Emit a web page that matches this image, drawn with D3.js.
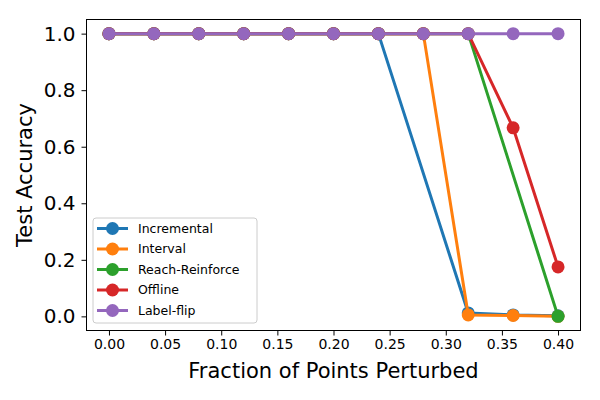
<!DOCTYPE html>
<html>
<head>
<meta charset="utf-8">
<script src="https://cdn.jsdelivr.net/npm/d3@7"></script>
<style>
  body { margin: 0; background: #fff; }
  text { font-family: "DejaVu Sans", sans-serif; fill: #000; }
</style>
</head>
<body>
<svg width="600" height="400"></svg>
<script>
// fraction of points perturbed
var fractions = [0.00, 0.04, 0.08, 0.12, 0.16, 0.20, 0.24, 0.28, 0.32, 0.36, 0.40];

// null = no point measured there
var incremental    = [1, 1, 1, 1, 1, 1, 1, null, 0.012, 0.005, 0.002];
var interval       = [1, 1, 1, 1, 1, 1, 1, 1, 0.005, 0.003, 0.0];
var reachReinforce = [1, 1, 1, 1, 1, 1, 1, 1, 1, null, 0.0];
var offline        = [1, 1, 1, 1, 1, 1, 1, 1, 1, 0.667, 0.175];
var labelFlip      = [1, 1, 1, 1, 1, 1, 1, 1, 1, 1, 1];

var seriesNames = ["Incremental", "Interval", "Reach-Reinforce", "Offline", "Label-flip"];
var seriesValues = [incremental, interval, reachReinforce, offline, labelFlip];
var colors = ["#1f77b4", "#ff7f0e", "#2ca02c", "#d62728", "#9467bd"];

var xTicks = [0, 0.05, 0.1, 0.15, 0.2, 0.25, 0.3, 0.35, 0.4];
var yTicks = [0, 0.2, 0.4, 0.6, 0.8, 1.0];

var plotLeft = 86.5, plotRight = 580.5, plotTop = 19.5, plotBottom = 330.5;

var x = d3.scaleLinear().domain([-0.02, 0.42]).range([plotLeft, plotRight]);
var y = d3.scaleLinear().domain([-0.05, 1.05]).range([plotBottom, plotTop]);

var svg = d3.select("svg");

var line = d3.line()
  .x(function(d) { return x(d.x); })
  .y(function(d) { return y(d.y); });

var series = seriesNames.map(function(name, i) {
  var pts = [];
  fractions.forEach(function(f, j) {
    if (seriesValues[i][j] !== null) pts.push({x: f, y: seriesValues[i][j]});
  });
  return {name: name, color: colors[i], points: pts};
});

var g = svg.append("g");
series.forEach(function(s) {
  var sg = g.append("g");
  sg.append("path")
    .attr("d", line(s.points))
    .attr("fill", "none")
    .attr("stroke", s.color)
    .attr("stroke-width", 3);
  sg.selectAll("circle")
    .data(s.points)
    .enter().append("circle")
    .attr("cx", function(d) { return x(d.x); })
    .attr("cy", function(d) { return y(d.y); })
    .attr("r", 6.5)
    .attr("fill", s.color);
});

// axes
var xAxis = svg.append("g")
  .attr("transform", "translate(0," + plotBottom + ")")
  .call(d3.axisBottom(x).tickValues(xTicks).tickFormat(d3.format(".2f")).tickSize(5).tickPadding(4));
xAxis.selectAll("text").style("font-size", "14px");

var yAxis = svg.append("g")
  .attr("transform", "translate(" + plotLeft + ",0)")
  .call(d3.axisLeft(y).tickValues(yTicks).tickFormat(d3.format(".1f")).tickSize(5).tickPadding(6));
yAxis.selectAll("text").style("font-size", "20px");

svg.selectAll(".domain").remove();
svg.selectAll(".tick line").attr("stroke", "#000").attr("stroke-width", 1);

svg.append("rect")
  .attr("x", plotLeft).attr("y", plotTop)
  .attr("width", plotRight - plotLeft).attr("height", plotBottom - plotTop)
  .attr("fill", "none").attr("stroke", "#000").attr("stroke-width", 1);

svg.append("text")
  .attr("x", (plotLeft + plotRight) / 2).attr("y", 378)
  .attr("text-anchor", "middle")
  .style("font-size", "21px")
  .text("Fraction of Points Perturbed");

svg.append("text")
  .attr("transform", "translate(32," + (plotTop + plotBottom) / 2 + ") rotate(-90)")
  .attr("text-anchor", "middle")
  .style("font-size", "21px")
  .text("Test Accuracy");

// legend
var legend = svg.append("g").attr("transform", "translate(93,218)");
legend.append("rect")
  .attr("width", 164).attr("height", 105).attr("rx", 3)
  .attr("fill", "#fff").attr("fill-opacity", 0.8)
  .attr("stroke", "#ccc");

var item = legend.selectAll(".item")
  .data(series)
  .enter().append("g")
  .attr("transform", function(d, i) { return "translate(0," + (10.5 + i * 20.5) + ")"; });
item.append("line")
  .attr("x1", 4).attr("x2", 35)
  .attr("stroke", function(d) { return d.color; })
  .attr("stroke-width", 3);
item.append("circle")
  .attr("cx", 19.5).attr("r", 6.5)
  .attr("fill", function(d) { return d.color; });
item.append("text")
  .attr("x", 45).attr("dy", "0.35em")
  .style("font-size", "12.5px")
  .text(function(d) { return d.name; });
</script>
</body>
</html>
